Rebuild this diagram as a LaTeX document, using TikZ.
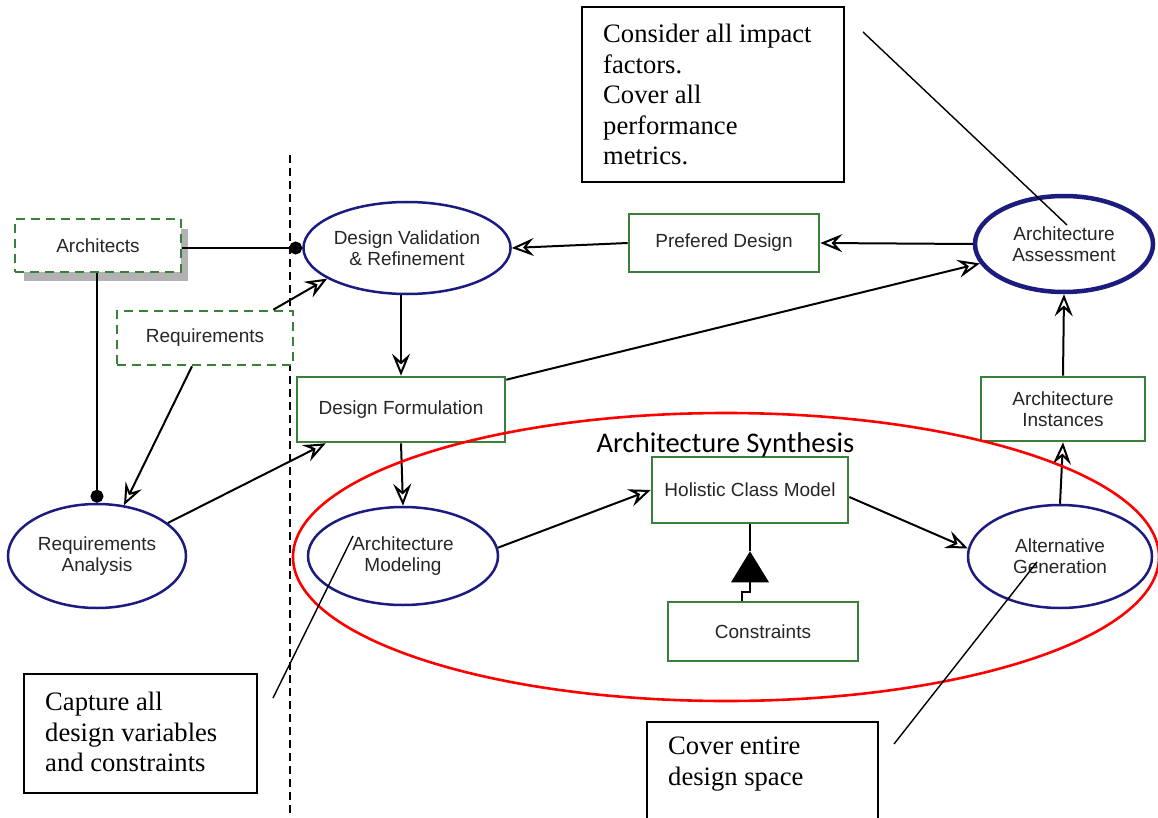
\documentclass[tikz,border=0pt]{standalone}
\usepackage{fontspec}
\setmainfont{Liberation Serif}
\setsansfont{Liberation Sans}
\newfontfamily\synthfont{Carlito}
\usetikzlibrary{shapes.geometric,arrows.meta,calc}

\definecolor{navyline}{RGB}{28,28,128}
\definecolor{boxgreen}{RGB}{58,128,58}
\definecolor{labelgray}{RGB}{38,38,38}
\definecolor{shadowgray}{RGB}{178,178,178}

\newcommand{\labelfont}{\sffamily\fontsize{19}{21}\selectfont}
\newcommand{\notefont}{\rmfamily\fontsize{26.6}{30.6}\selectfont}

\tikzset{
  usecase/.style={ellipse, draw=navyline, line width=2.5pt, fill=white,
    inner sep=0pt, font=\labelfont, text=labelgray, align=center},
  classbox/.style={rectangle, draw=boxgreen, line width=2.6pt, fill=white,
    inner sep=0pt, font=\labelfont, text=labelgray, align=center},
  actorbox/.style={classbox, dash pattern=on 9pt off 6pt},
  flow/.style={draw=black, line width=2pt,
    -{Stealth[open, length=22pt, width=18pt, inset=8pt]}},
  assoc/.style={draw=black, line width=2pt, -{Circle[length=13pt]}},
  link/.style={draw=black, line width=1.6pt},
  notebox/.style={rectangle, draw=black, line width=1.4pt, inner sep=0pt},
  notetext/.style={font=\notefont, align=left, inner sep=0pt, anchor=north west},
  pointer/.style={draw=black, line width=1.4pt},
  divider/.style={draw=black, line width=1.8pt, dash pattern=on 8pt off 5pt}
}

\begin{document}
\begin{tikzpicture}[x=1pt, y=-1pt]
\useasboundingbox (0,0) rectangle (1158,818);
\fill[white] (0,0) rectangle (1158,818);
\clip (0,0) rectangle (1158,818);

% boundary between stakeholders and design activities
\coordinate (divtop) at (290,155);
\coordinate (divbot) at (290,818);
\draw[divider] (divtop) -- (divbot);

% actors and inputs
\fill[shadowgray] (24,229) rectangle (188,281);
\node[actorbox, minimum width=166, minimum height=53] (arch) at (98,245.5) {Architects};
\node[actorbox, minimum width=176, minimum height=54] (req) at (205,338) {Requirements};

% activities
\node[usecase, minimum width=196, minimum height=92] (dvr) at (407,248) {Design Validation\\\& Refinement};
\node[usecase, minimum width=178, minimum height=104] (ra) at (97,556) {Requirements\\Analysis};
\node[usecase, minimum width=190, minimum height=98] (am) at (403,556) {Architecture\\Modeling};
\node[usecase, minimum width=184, minimum height=103] (ag) at (1060,556.5) {Alternative\\Generation};
\node[usecase, line width=4.5pt, minimum width=178, minimum height=96] (aa) at (1064,244) {Architecture\\Assessment};

% artefacts
\node[classbox, minimum width=190, minimum height=58] (pref) at (724,243) {Prefered Design};
\node[classbox, minimum width=208, minimum height=65] (df) at (401,409.5) {Design Formulation};
\node[classbox, minimum width=164, minimum height=64] (ai) at (1063,409) {Architecture\\Instances};
\node[classbox, minimum width=196, minimum height=66] (hcm) at (750,490) {Holistic Class Model};
\node[classbox, minimum width=190, minimum height=59] (con) at (763,631.5) {Constraints};

% associations
\draw[assoc] (arch.east |- dvr.west) -- (dvr.west);
\draw[assoc] (arch.south -| ra.north) -- (ra.north);

% flows
\draw[flow] ($(req.north east)+(-21,0)$) -- (dvr.201);
\draw[flow] ($(req.south)+(-13,0)$) -- (ra.62);
\draw[flow] (pref.west) -- (dvr.east);
\draw[flow] (aa.west) -- (pref.east);
\draw[flow] (dvr.south -| df.north) -- (df.north);
\draw[flow] (df.south) -- (am.north);
\draw[flow] ($(df.north east)+(0,4)$) -- (aa.193);
\draw[flow] (ra.25) -- ($(df.south west)+(30,0)$);
\draw[flow] (am.5) -- (hcm.west);
\draw[flow] ($(hcm.east)+(0,7)$) -- (ag.175);
\draw[flow] (ag.north) -- (ai.south);
\draw[flow] (ai.north) -- (aa.south);

% constraints attached to the class model
\coordinate (apex) at ($(hcm.south)+(0,27)$);
\draw[link] (hcm.south) -- (apex);
\fill[black] (apex) -- ++(-19,31) -- ++(38,0) -- cycle;
\draw[link] ($(apex)+(0,31)$) |- ($(con.north)+(-21,-9)$) -- ($(con.north)+(-21,0)$);

% synthesis region
\node[ellipse, draw=red, line width=2.6pt, minimum width=866, minimum height=288, inner sep=0pt] (synth) at (726,557) {};
\node[font=\synthfont\fontsize{28.5}{30}\selectfont, anchor=base, inner sep=0pt] (synthlabel) at (725.5,452) {Architecture Synthesis};

% notes
\node[notebox, minimum width=262, minimum height=175] (topnote) at (713,94.5) {};
\node[notetext] (topnotetext) at (603,23.8) {Consider all impact\\factors.\\Cover all\\performance\\metrics.};
\coordinate (toppin) at (863,32);
\coordinate (toptip) at (1067,225);
\draw[pointer] (toppin) -- (toptip);

\node[notebox, minimum width=233, minimum height=119] (leftnote) at (140.5,733.5) {};
\node[notetext] (leftnotetext) at (45,692) {Capture all\\design variables\\and constraints};
\coordinate (leftpin) at (273,698);
\coordinate (lefttip) at (353,536);
\draw[pointer] (leftpin) -- (lefttip);

\node[notebox, minimum width=231, minimum height=130] (rightnote) at (762.5,787) {};
\node[notetext] (rightnotetext) at (668,737) {Cover entire\\design space};
\coordinate (rightpin) at (894,744);
\coordinate (righttip) at (1037,562);
\draw[pointer] (rightpin) -- (righttip);
\end{tikzpicture}
\end{document}
